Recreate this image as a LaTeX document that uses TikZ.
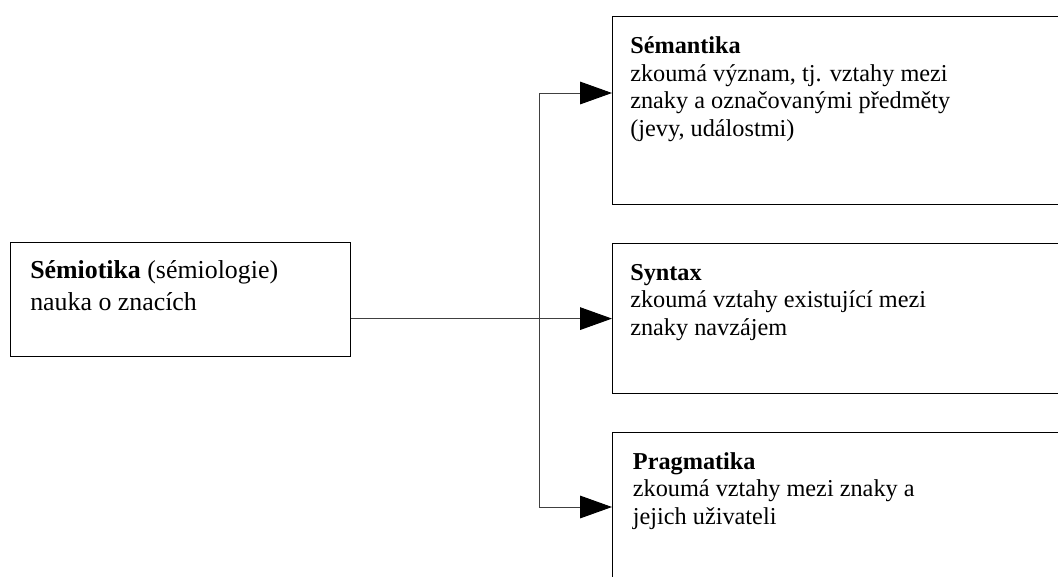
\documentclass[tikz,border=0pt]{standalone}
\usepackage{fontspec}
\setmainfont{Liberation Serif}
\usetikzlibrary{positioning,arrows.meta}

\tikzset{
  box/.style={draw, line width=0.9pt, anchor=north west, inner sep=0pt},
  txt/.style={anchor=north west, align=left, inner sep=0pt,
              font=\fontsize{18.2}{20.6}\selectfont},
  bigtxt/.style={txt, font=\fontsize{19.4}{24}\selectfont},
  link/.style={draw=black!75, line width=0.75pt},
  tip/.style={-{Triangle[length=24pt,width=17pt,color=black]}}
}

\begin{document}
\begin{tikzpicture}[x=0.75pt,y=-0.75pt]
 \clip (0,0) rectangle (1058,576);
 % boxes
 \node[box, minimum width=255pt, minimum height=85.5pt] (semio) at (10,242) {};
 \node[box, minimum width=375pt, minimum height=141pt] (sem) at (612,16) {};
 \node[box, minimum width=375pt, minimum height=112.5pt] (syn) at (612,243) {};
 \node[box, minimum width=375pt, minimum height=150pt] (prag) at (612,432) {};
 % texts
 \node[bigtxt, below right=13.6pt and 15pt of semio.north west] (semiotxt)
   {\textbf{Sémiotika} (sémiologie)\\nauka o znacích};
 \node[txt, below right=15.6pt and 13.5pt of sem.north west] (semtxt)
   {\textbf{Sémantika}\\zkoumá význam, tj. vztahy mezi\\znaky a označovanými předměty\\(jevy, událostmi)};
 \node[txt, below right=15.8pt and 13.5pt of syn.north west] (syntxt)
   {\textbf{Syntax}\\zkoumá vztahy existující mezi\\znaky navzájem};
 \node[txt, below right=15pt and 15.5pt of prag.north west] (pragtxt)
   {\textbf{Pragmatika}\\zkoumá vztahy mezi znaky a\\jejich uživateli};
 % connectors
 \coordinate (fork) at (539,319);
 \coordinate (semin) at (612,93);
 \coordinate (pragin) at (612,507);
 \draw[link,tip] (syn.west -| semio.east) -- (syn.west);
 \draw[link,tip] (fork) |- (semin);
 \draw[link,tip] (fork) |- (pragin);
\end{tikzpicture}
\end{document}
